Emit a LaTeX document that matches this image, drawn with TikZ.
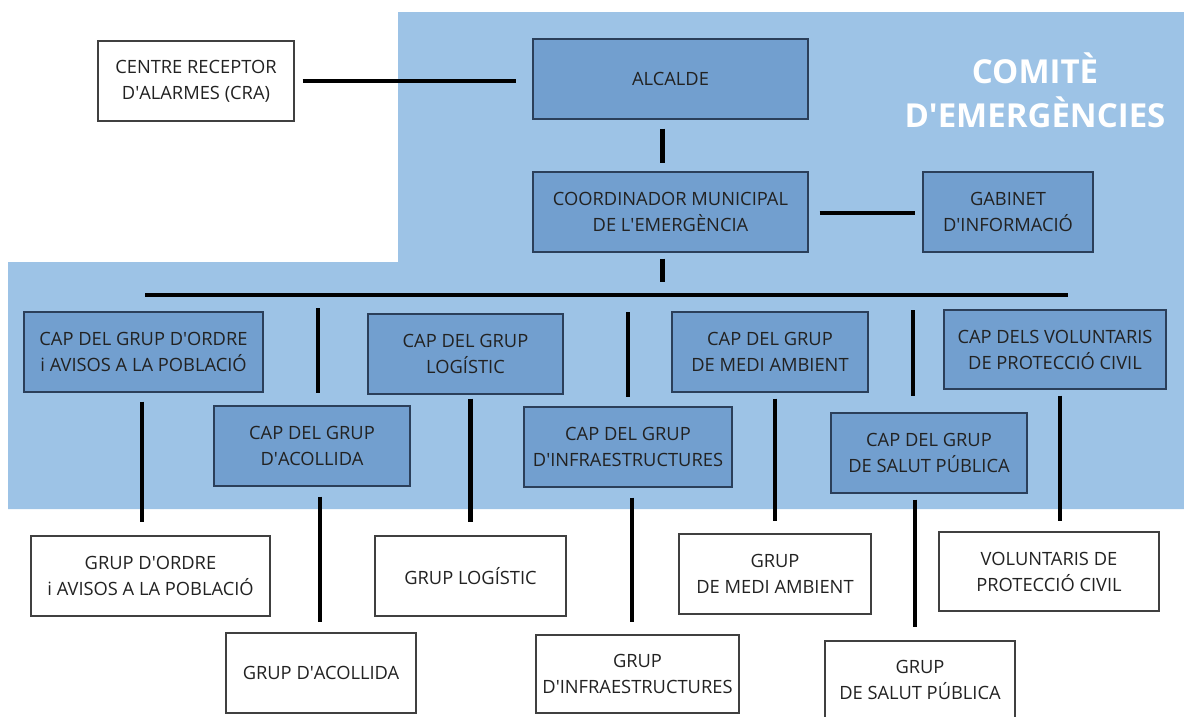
\documentclass[tikz,border=0pt]{standalone}
\usepackage{fontspec}
\setmainfont{Open Sans}
\definecolor{bgblue}{HTML}{9DC3E6}
\definecolor{boxblue}{HTML}{729FCF}
\definecolor{boxedge}{HTML}{2B3F5A}
\definecolor{txt}{HTML}{222222}
\newcommand{\ap}{\textquotesingle}
\begin{document}
\begin{tikzpicture}[x=1pt,y=-1pt,
  base/.style={rectangle,inner sep=2pt,align=center,text=txt,font=\fontsize{18.3}{26}\selectfont},
  dbox/.style={base,draw=boxedge,line width=1.3pt,fill=boxblue},
  wbox/.style={base,draw=black!75,line width=1.1pt,fill=white},
  conn/.style={line width=4.5pt,black}]
\useasboundingbox (0,0) rectangle (1184,716);
\fill[white] (0,0) rectangle (1184,716);
% background committee region
\fill[bgblue] (398,12) -- (1184,12) -- (1184,509) -- (8,509) -- (8,262) -- (398,262) -- cycle;
\node[font=\bfseries\fontsize{33}{44}\selectfont,text=white,align=center] (title) at (1035,90) {COMITÈ\\D\ap EMERGÈNCIES};
% top boxes
\node[wbox,minimum width=196,minimum height=80] (cra) at (196,81) {CENTRE RECEPTOR\\D\ap ALARMES (CRA)};
\node[dbox,minimum width=275,minimum height=80] (alc) at (670.5,79) {ALCALDE};
\node[dbox,minimum width=275,minimum height=80] (coord) at (670.5,212) {COORDINADOR MUNICIPAL\\DE L\ap EMERGÈNCIA};
\node[dbox,minimum width=170,minimum height=80] (gab) at (1008,212) {GABINET\\D\ap INFORMACIÓ};
% group heads
\node[dbox,minimum width=239,minimum height=80] (c1) at (143.5,352) {CAP DEL GRUP D\ap ORDRE\\i AVISOS A LA POBLACIÓ};
\node[dbox,minimum width=196,minimum height=80] (c2) at (312,446) {CAP DEL GRUP\\D\ap ACOLLIDA};
\node[dbox,minimum width=195,minimum height=80] (c3) at (465.5,354) {CAP DEL GRUP\\LOGÍSTIC};
\node[dbox,minimum width=208,minimum height=80] (c4) at (628,447) {CAP DEL GRUP\\D\ap INFRAESTRUCTURES};
\node[dbox,minimum width=196,minimum height=80] (c5) at (770,352) {CAP DEL GRUP\\DE MEDI AMBIENT};
\node[dbox,minimum width=196,minimum height=80] (c6) at (929,453) {CAP DEL GRUP\\DE SALUT PÚBLICA};
\node[dbox,minimum width=222,minimum height=79] (c7) at (1055,349.5) {CAP DELS VOLUNTARIS\\DE PROTECCIÓ CIVIL};
% groups
\node[wbox,minimum width=239,minimum height=80] (g1) at (150.5,576) {GRUP D\ap ORDRE\\i AVISOS A LA POBLACIÓ};
\node[wbox,minimum width=190,minimum height=80] (g2) at (321,673) {GRUP D\ap ACOLLIDA};
\node[wbox,minimum width=191,minimum height=80] (g3) at (470.5,576) {GRUP LOGÍSTIC};
\node[wbox,minimum width=203,minimum height=78] (g4) at (637.5,674) {GRUP\\D\ap INFRAESTRUCTURES};
\node[wbox,minimum width=192,minimum height=80] (g5) at (775,574) {GRUP\\DE MEDI AMBIENT};
\node[wbox,minimum width=190,minimum height=78] (g6) at (920,680) {GRUP\\DE SALUT PÚBLICA};
\node[wbox,minimum width=220,minimum height=79] (g7) at (1049,571.5) {VOLUNTARIS DE\\PROTECCIÓ CIVIL};
% bus
\coordinate (busL) at (145,295);
\coordinate (busR) at (1068,295);
\draw[conn] (busL) -- (busR);
% top connectors
\draw[conn,shorten <=8pt,shorten >=16pt] (cra.east) -- (cra.east -| alc.west);
\draw[conn,shorten <=9pt,shorten >=8pt] ([xshift=-8pt]alc.south) -- ([xshift=-8pt]coord.north);
\draw[conn,shorten <=6pt] ([xshift=-8pt]coord.south) -- ([xshift=-8pt,yshift=13pt]coord.south |- busL);
\draw[conn,shorten <=11pt,shorten >=7pt] ([yshift=-1pt]coord.east) -- ([yshift=-1pt]coord.east -| gab.west);
% bus drops
\draw[conn,shorten <=13pt,shorten >=12pt] ([xshift=6pt]c2.north |- busL) -- ([xshift=6pt]c2.north);
\draw[conn,shorten <=17pt,shorten >=9pt] (c4.north |- busL) -- (c4.north);
\draw[conn,shorten <=15pt,shorten >=16pt] ([xshift=-16pt]c6.north |- busL) -- ([xshift=-16pt]c6.north);
% head to group connectors
\draw[conn,shorten <=9pt,shorten >=13pt] ([xshift=-1.5pt]c1.south) -- ([xshift=-1.5pt]c1.south |- g1.north);
\draw[conn,shorten <=10pt,shorten >=10pt] ([xshift=8pt]c2.south) -- ([xshift=8pt]c2.south |- g2.north);
\draw[conn,shorten <=4pt,shorten >=13pt] ([xshift=5pt]c3.south) -- ([xshift=5pt]c3.south |- g3.north);
\draw[conn,shorten <=10pt,shorten >=12pt] ([xshift=4pt]c4.south) -- ([xshift=4pt]c4.south |- g4.north);
\draw[conn,shorten <=6pt,shorten >=12pt] ([xshift=5pt]c5.south) -- ([xshift=5pt]c5.south |- g5.north);
\draw[conn,shorten <=6pt,shorten >=13pt] ([xshift=-14pt]c6.south) -- ([xshift=-14pt]c6.south |- g6.north);
\draw[conn,shorten <=6pt,shorten >=10pt] ([xshift=5pt]c7.south) -- ([xshift=5pt]c7.south |- g7.north);
\end{tikzpicture}
\end{document}
